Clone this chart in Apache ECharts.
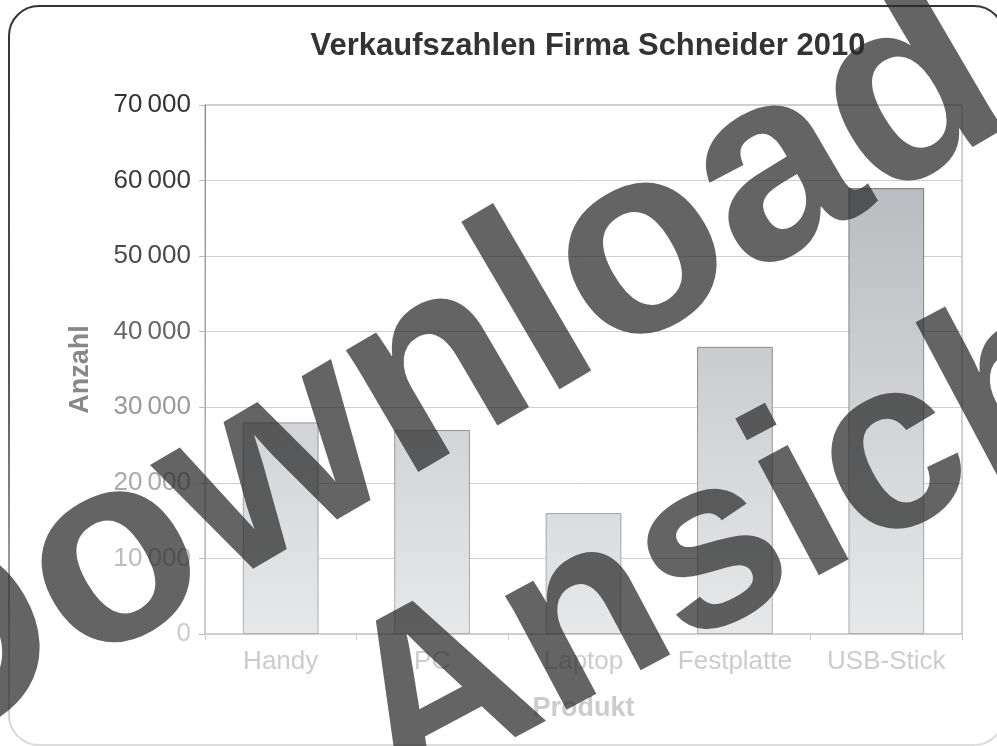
<!DOCTYPE html>
<html>
<head>
<meta charset="utf-8">
<script src="https://cdn.jsdelivr.net/npm/echarts@6/dist/echarts.min.js"></script>
<style>html,body{margin:0;padding:0;background:#fff}#c{width:997px;height:746px}</style>
</head>
<body>
<div id="c"></div>
<script>
const categories = ['Handy', 'PC', 'Laptop', 'Festplatte', 'USB-Stick'];
const sales = [28000, 27000, 16000, 38000, 59000];
const yLabelColors = ['#cccccc', '#bbbbbb', '#aaaaaa', '#999999', '#666666', '#4a4a4a', '#3c3c3c', '#333333'];
const titleText = 'Verkaufszahlen Firma Schneider 2010';
const yName = 'Anzahl';
const xName = 'Produkt';
const watermark1 = 'Download';
const watermark2 = 'Ansicht';

const FONT = "'Liberation Sans', Arial, sans-serif";
const chart = echarts.init(document.getElementById('c'));
const G = echarts.graphic.LinearGradient;

chart.setOption({
  animation: false,
  backgroundColor: '#ffffff',
  title: {
    text: titleText,
    left: 583,
    top: 26,
    textAlign: 'center',
    textStyle: { fontFamily: FONT, fontSize: 31, fontWeight: 'bold', color: '#333333' }
  },
  grid: {
    left: 205, right: 35, top: 105, bottom: 112,
    show: true, borderColor: '#a0a0a0', borderWidth: 1, backgroundColor: 'transparent'
  },
  xAxis: {
    type: 'category',
    data: categories,
    name: xName,
    nameLocation: 'middle',
    nameGap: 61,
    nameTextStyle: { fontFamily: FONT, fontSize: 27, fontWeight: 'bold', color: '#cccccc' },
    axisLine: { lineStyle: { color: '#cccccc', width: 1 } },
    axisTick: { show: true, length: 6, alignWithLabel: false, interval: 0, lineStyle: { color: '#cccccc' } },
    axisLabel: { fontFamily: FONT, fontSize: 26, color: '#cccccc', margin: 15, interval: 0, hideOverlap: false }
  },
  yAxis: {
    type: 'value',
    min: 0, max: 70000, interval: 10000,
    name: yName,
    nameLocation: 'middle',
    nameGap: 111,
    nameTextStyle: { fontFamily: FONT, fontSize: 27, fontWeight: 'bold', color: '#888888' },
    axisLine: { show: true, lineStyle: { color: new G(0, 105, 0, 634, [{offset: 0, color: '#888888'}, {offset: 1, color: '#cccccc'}], true), width: 1 } },
    axisTick: { show: true, length: 6, lineStyle: { color: '#bbbbbb' } },
    splitLine: { show: true, lineStyle: { color: '#cfcfcf', width: 1 } },
    axisLabel: {
      fontFamily: FONT, fontSize: 26, margin: 14,
      formatter: function (v) {
        if (v === 0) return '0';
        const s = String(v);
        return s.slice(0, s.length - 3) + '\u2009' + s.slice(s.length - 3);
      },
      color: function (v) { return yLabelColors[Math.round(v / 10000)] || '#999'; }
    }
  },
  series: [{
    type: 'bar',
    data: sales,
    barWidth: '50%',
    itemStyle: {
      color: new G(0, 105, 0, 634, [{offset: 0, color: '#b1b4b8'}, {offset: 1, color: '#e7e8ea'}], true),
      borderColor: new G(0, 105, 0, 634, [{offset: 0, color: '#6a6a6a'}, {offset: 1, color: '#b0b0b0'}], true),
      borderWidth: 1
    }
  }],
  graphic: [
    {
      type: 'rect', z: 100,
      shape: { x: 9, y: 6, width: 995, height: 739, r: 30 },
      style: {
        fill: 'none', lineWidth: 2,
        stroke: new G(0, 0, 0, 746, [{offset: 0, color: '#333333'}, {offset: 0.5, color: '#555555'}, {offset: 1, color: '#dddddd'}], true)
      }
    },
    {
      type: 'text', z: 200,
      x: 429, y: 380, rotation: 0.53,
      style: {
        text: watermark1, fontFamily: FONT, fontWeight: 'bold', fontSize: 268,
        fill: 'rgba(40,40,40,0.72)', align: 'center', verticalAlign: 'middle'
      }
    },
    {
      type: 'text', z: 200,
      x: 760, y: 530, rotation: 0.49,
      style: {
        text: watermark2, fontFamily: FONT, fontWeight: 'bold', fontSize: 245,
        fill: 'rgba(40,40,40,0.72)', align: 'center', verticalAlign: 'middle'
      }
    }
  ]
});
</script>
</body>
</html>
